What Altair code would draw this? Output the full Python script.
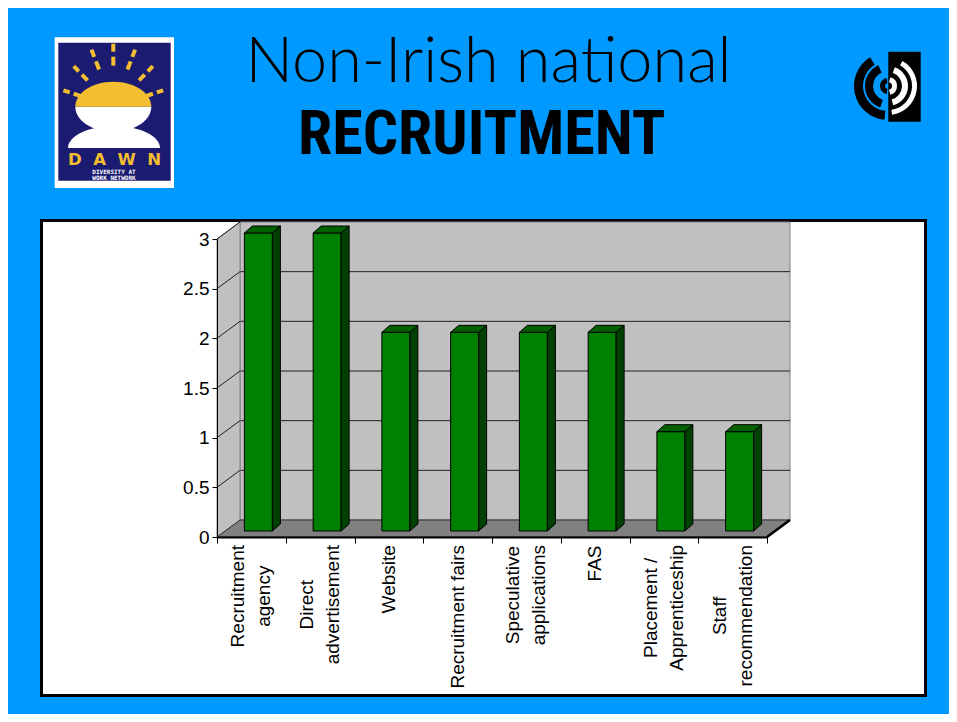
import math
import altair as alt
import pandas as pd

# ---------------- data ----------------
categories = [
    "Recruitment\nagency",
    "Direct\nadvertisement",
    "Website",
    "Recruitment fairs",
    "Speculative\napplications",
    "FAS",
    "Placement /\nApprenticeship",
    "Staff\nrecommendation",
]
values = [3, 3, 2, 2, 2, 2, 1, 1]
y_ticks = [0, 0.5, 1, 1.5, 2, 2.5, 3]
title_top = "Non-Irish national"
title_bottom = "RECRUITMENT"
logo_name = "D\u2002\u2009A\u2002\u2009W\u2002\u2009N"
logo_line1 = "DIVERSITY AT"
logo_line2 = "WORK NETWORK"

# ---------------- layout / style ----------------
W, H = 550, 298                 # plot area (front plane of the 3-D box)
N = len(categories)
Y_MAX = 3
XU = W / N                      # px per x unit
YU = H / Y_MAX                  # px per y unit
OX, OY = 217, 239               # page position of the plot origin
CHART_W, CHART_H = 941, 706
PAD_L, PAD_T = OX - 8, OY - 8
PAD_R = CHART_W - PAD_L - W
PAD_B = CHART_H - PAD_T - H

WALL_DX, WALL_DY = 23, 17       # depth of the 3-D box, px
BAR_DX, BAR_DY = 7, 6           # bar front face shift into the box, px
BAR_W = 28
BAR_DEPTH_X, BAR_DEPTH_Y = 8, 7

FONT = "Liberation Sans"
FS = 19
LABEL_PAD = 8
LINE_H = 26

BLUE = "#0099ff"
WALL = "#c0c0c0"
FLOOR = "#808080"
FRONT = "#008000"
SIDE = "#004000"
TOP = "#006000"
YELLOW = "#f4be31"

XS = alt.Scale(domain=[0, N], nice=False, zero=False)
YS = alt.Scale(domain=[0, Y_MAX], nice=False, zero=False)
X_AXIS = alt.Axis(values=list(range(N + 1)), labels=False, tickSize=6, tickColor="black",
                  tickWidth=1, domainColor="black", domainWidth=2, grid=False, zindex=1, title=None)
Y_AXIS = alt.Axis(values=y_ticks, format="~g", tickSize=5, tickColor="black", tickWidth=1,
                  domainColor="black", domainWidth=1, labelFont=FONT, labelFontSize=FS,
                  labelColor="black", labelPadding=3, grid=False, zindex=1, title=None)


def X(field, **kw):
    return alt.X(field, scale=XS, axis=X_AXIS, **kw)


def Y(field, **kw):
    return alt.Y(field, scale=YS, axis=Y_AXIS, **kw)


def px(x):
    return x - OX


def py(y):
    return y - OY


ONE = pd.DataFrame({"k": [0]})
layers = []

# ---------------- slide decorations ----------------
layers.append(
    alt.Chart(ONE).mark_rect(fill="white", stroke="black", strokeWidth=3).encode(
        x=alt.value(px(41.5)), x2=alt.value(px(925.5)),
        y=alt.value(py(220.5)), y2=alt.value(py(695.5)))
)

# DAWN logo
layers.append(alt.Chart(ONE).mark_rect(fill="white").encode(
    x=alt.value(px(54.7)), x2=alt.value(px(174)), y=alt.value(py(37.3)), y2=alt.value(py(188))))
layers.append(alt.Chart(ONE).mark_rect(fill="#1b1b72").encode(
    x=alt.value(px(58.3)), x2=alt.value(px(170.7)), y=alt.value(py(42.7)), y2=alt.value(py(180.7))))

half_top = "M -1 0 A 1 {r} 0 0 1 1 0 Z"
half_bot = "M -1 0 A 1 {r} 0 0 0 1 0 Z"
layers.append(alt.Chart(ONE).mark_point(shape=half_top.format(r=round(22 / 46, 3)), filled=True,
                                        fill="white", strokeWidth=0, opacity=1).encode(
    x=alt.value(px(114)), y=alt.value(py(148)), size=alt.value(92 * 92)))
layers.append(alt.Chart(ONE).mark_point(shape=half_bot.format(r=round(25 / 38, 3)), filled=True,
                                        fill="white", strokeWidth=0, opacity=1).encode(
    x=alt.value(px(113.3)), y=alt.value(py(106.7)), size=alt.value(76 * 76)))
layers.append(alt.Chart(ONE).mark_point(shape=half_top.format(r=round(25 / 38, 3)), filled=True,
                                        fill=YELLOW, strokeWidth=0, opacity=1).encode(
    x=alt.value(px(113.3)), y=alt.value(py(106.7)), size=alt.value(76 * 76)))
for ang in [15, 40, 65, 90, 115, 140, 165]:
    a = math.radians(ang)
    for r1, r2 in [(41, 50), (55, 63)]:
        x1 = 113.3 + 0.82 * r1 * math.cos(a)
        y1 = 106.7 - r1 * math.sin(a)
        x2 = 113.3 + 0.82 * r2 * math.cos(a)
        y2 = 106.7 - r2 * math.sin(a)
        layers.append(alt.Chart(ONE).mark_rule(color=YELLOW, strokeWidth=4).encode(
            x=alt.value(px(x1)), y=alt.value(py(y1)), x2=alt.value(px(x2)), y2=alt.value(py(y2))))
layers.append(alt.Chart(ONE).mark_text(text=logo_name, font="DejaVu Sans", fontWeight="bold",
                                       fontSize=16.5, color=YELLOW, align="center",
                                       baseline="alphabetic").encode(
    x=alt.value(px(114.5)), y=alt.value(py(165))))
layers.append(alt.Chart(ONE).mark_text(text=logo_line1, font="DejaVu Sans Mono", fontWeight="bold",
                                       fontSize=6, color="white", align="center",
                                       baseline="alphabetic").encode(
    x=alt.value(px(114)), y=alt.value(py(173.5))))
layers.append(alt.Chart(ONE).mark_text(text=logo_line2, font="DejaVu Sans Mono", fontWeight="bold",
                                       fontSize=6, color="white", align="center",
                                       baseline="alphabetic").encode(
    x=alt.value(px(114)), y=alt.value(py(180))))

# right logo
layers.append(alt.Chart(ONE).mark_rect(fill="black").encode(
    x=alt.value(px(888.3)), x2=alt.value(px(920.7)), y=alt.value(py(51.7)), y2=alt.value(py(121.7))))
for r1, r2, t1, t2, col in [
    (25, 34, 186, 328, "black"), (15, 23, 200, 335, "black"), (3, 8, 190, 350, "black"),
    (4, 9, 15, 165, "white"), (14, 20, 20, 165, "white"), (24, 29, 30, 172, "white"),
]:
    layers.append(alt.Chart(ONE).mark_arc(color=col).encode(
        x=alt.value(px(888)), y=alt.value(py(86)),
        theta=alt.value(math.radians(t1)), theta2=alt.value(math.radians(t2)),
        radius=alt.value(r2), radius2=alt.value(r1)))

# titles
layers.append(alt.Chart(ONE).mark_text(text=title_top, font="Lato", fontWeight=300, fontSize=63,
                                       color="black", align="center", baseline="alphabetic").encode(
    x=alt.value(px(488.5)), y=alt.value(py(82))))
layers.append(alt.Chart(ONE).mark_text(text=title_bottom, font="Roboto Condensed, Lato", fontWeight="bold",
                                       fontSize=62, color="black", align="center", baseline="alphabetic").encode(
    x=alt.value(px(481.7)), y=alt.value(py(153.5))))

# ---------------- 3-D box ----------------
wdx, wdy = WALL_DX / XU, WALL_DY / YU

back = pd.DataFrame({"x1": [wdx], "x2": [N + wdx], "y1": [wdy], "y2": [Y_MAX + wdy]})
layers.append(alt.Chart(back).mark_rect(fill=WALL, stroke="#808080", strokeWidth=1).encode(
    x=X("x1:Q"), x2="x2:Q", y=Y("y1:Q"), y2="y2:Q"))

grid_back = pd.DataFrame({
    "x1": [wdx] * (len(y_ticks) - 2), "x2": [N + wdx] * (len(y_ticks) - 2),
    "y1": [v + wdy for v in y_ticks[1:-1]], "y2": [v + wdy for v in y_ticks[1:-1]]})
layers.append(alt.Chart(grid_back).mark_rule(color="#202020", strokeWidth=1).encode(
    x=X("x1:Q"), x2="x2:Q", y=Y("y1:Q"), y2="y2:Q"))

side_wall = pd.DataFrame({"x": [0, wdx], "ya": [0, wdy], "yb": [Y_MAX, Y_MAX + wdy]})
layers.append(alt.Chart(side_wall).mark_area(fill=WALL, stroke="#808080", strokeWidth=1, opacity=1).encode(
    x=X("x:Q"), y=Y("ya:Q", stack=None), y2="yb:Q"))

diag = pd.DataFrame({"x1": [0] * (len(y_ticks) - 1), "x2": [wdx] * (len(y_ticks) - 1),
                     "y1": y_ticks[1:], "y2": [v + wdy for v in y_ticks[1:]]})
layers.append(alt.Chart(diag).mark_rule(color="#202020", strokeWidth=1).encode(
    x=X("x1:Q"), x2="x2:Q", y=Y("y1:Q"), y2="y2:Q"))

floor = pd.DataFrame({"y": [0, wdy], "xa": [0, wdx], "xb": [N, N + wdx]})
layers.append(alt.Chart(floor).mark_area(orient="horizontal", fill=FLOOR, stroke="#303030",
                                         strokeWidth=1, opacity=1).encode(
    y=Y("y:Q"), x=X("xa:Q", stack=None), x2="xb:Q"))
floor_edge = pd.DataFrame({"x1": [N], "x2": [N + wdx], "y1": [0], "y2": [wdy]})
layers.append(alt.Chart(floor_edge).mark_rule(color="black", strokeWidth=2.5).encode(
    x=X("x1:Q"), x2="x2:Q", y=Y("y1:Q"), y2="y2:Q"))

# ---------------- bars ----------------
fx, fy = BAR_DEPTH_X / XU, BAR_DEPTH_Y / YU
front_rows, side_rows, top_rows = [], [], []
for i, (c, v) in enumerate(zip(categories, values)):
    xc = i + 0.5
    xl = xc + (BAR_DX - BAR_W / 2) / XU
    xr = xc + (BAR_DX + BAR_W / 2) / XU
    yb = BAR_DY / YU
    yt = v + yb
    front_rows.append({"cat": c, "xl": xl, "xr": xr, "yb": yb, "yt": yt, "value": v})
    side_rows += [{"cat": c, "x": xr, "ya": yb, "yb": yt},
                  {"cat": c, "x": xr + fx, "ya": yb + fy, "yb": yt + fy}]
    top_rows += [{"cat": c, "y": yt, "xa": xl, "xb": xr},
                 {"cat": c, "y": yt + fy, "xa": xl + fx, "xb": xr + fx}]

layers.append(alt.Chart(pd.DataFrame(front_rows)).mark_rect(fill=FRONT, stroke="black", strokeWidth=1).encode(
    x=X("xl:Q"), x2="xr:Q", y=Y("yt:Q"), y2="yb:Q"))
layers.append(alt.Chart(pd.DataFrame(side_rows)).mark_area(fill=SIDE, stroke="black", strokeWidth=1,
                                                           opacity=1).encode(
    x=X("x:Q"), y=Y("ya:Q", stack=None), y2="yb:Q", detail="cat:N"))
layers.append(alt.Chart(pd.DataFrame(top_rows)).mark_area(orient="horizontal", fill=TOP, stroke="black",
                                                          strokeWidth=1, opacity=1).encode(
    y=Y("y:Q"), x=X("xa:Q", stack=None), x2="xb:Q", detail="cat:N"))

# ---------------- category labels ----------------
ARIAL = {' ': 278, '/': 278, 'A': 667, 'D': 722, 'F': 611, 'P': 667, 'R': 722, 'S': 667, 'W': 944,
         'a': 556, 'b': 556, 'c': 500, 'd': 556, 'e': 556, 'f': 278, 'g': 556, 'h': 556, 'i': 222,
         'l': 222, 'm': 833, 'n': 556, 'o': 556, 'p': 556, 'r': 333, 's': 500, 't': 278, 'u': 556,
         'v': 500, 'y': 500, 'k': 500}


def text_w(s):
    return sum(ARIAL.get(ch, 556) for ch in s) * FS / 1000


lab_rows = []
for i, c in enumerate(categories):
    lines = c.split("\n")
    maxw = max(text_w(line) for line in lines)
    lab_rows.append({"cat": c,
                     "xc": i + 0.5 - (len(lines) - 1) * LINE_H / 2 / XU,
                     "ya": -(LABEL_PAD + maxw / 2) / YU})
layers.append(alt.Chart(pd.DataFrame(lab_rows)).mark_text(
    angle=270, align="center", baseline="middle", lineBreak="\n", lineHeight=LINE_H,
    font=FONT, fontSize=FS, color="black").encode(
    x=X("xc:Q"), y=Y("ya:Q"), text="cat:N"))

chart = alt.layer(*layers).properties(
    width=W, height=H,
    autosize=alt.AutoSizeParams(type="none"),
    padding={"left": PAD_L, "top": PAD_T, "right": PAD_R, "bottom": PAD_B},
    background=BLUE,
).configure_view(strokeWidth=0)

chart.save("out.html", embed_options={"renderer": "svg", "actions": False})
